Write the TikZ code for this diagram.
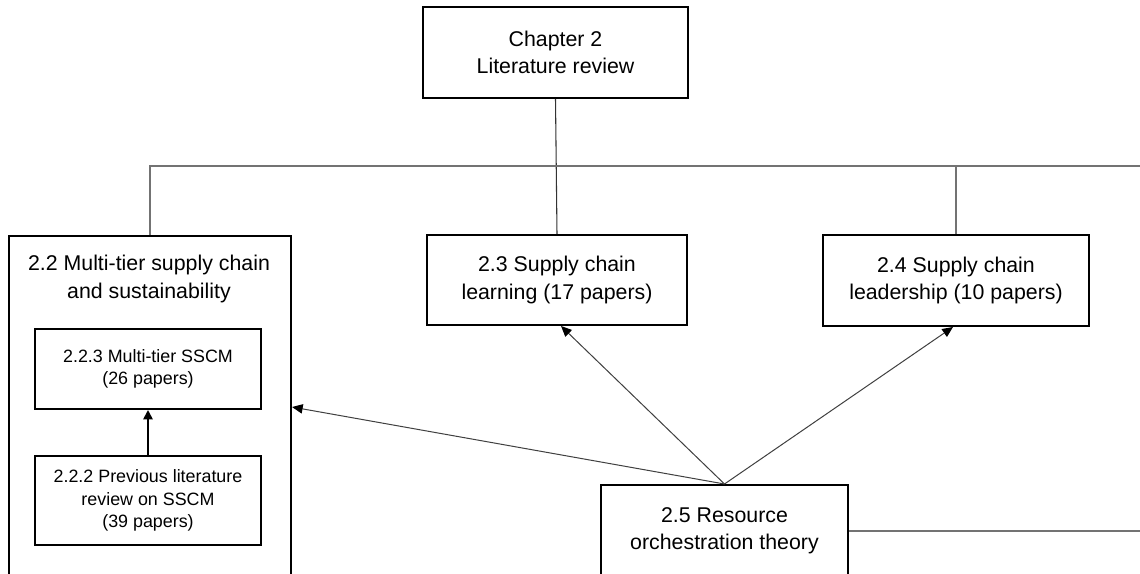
\documentclass[tikz,border=0pt]{standalone}
\usepackage{fontspec}
\setmainfont{Liberation Sans}
\usetikzlibrary{arrows.meta,calc}

\tikzset{
  box/.style={draw=black, line width=1.5pt, fill=white, inner sep=0pt, align=center},
  bigtext/.style={font=\fontsize{16}{20.3}\selectfont},
  smalltext/.style={font=\fontsize{13.4}{17}\selectfont},
  tree/.style={draw=black!55, line width=0.8pt},
  link/.style={draw=black!75, line width=0.75pt,
    -{Triangle[length=8pt,width=7pt,color=black,fill=black]}},
  sublink/.style={draw=black, line width=1.3pt,
    -{Triangle[length=7pt,width=7pt,fill=black]}},
}

\begin{document}
\begin{tikzpicture}[x=0.75pt, y=-0.75pt]
  \clip (0,0) rectangle (1140,574);
  \fill[white] (0,0) rectangle (1140,574);

  % free ends at the right edge
  \coordinate (r1) at (1140,166);
  \coordinate (r2) at (1140,531);

  % chapter heading
  \node[box, bigtext, minimum width=199pt, minimum height=68pt] (ch) at (555.5,52.5)
    {Chapter 2\\Literature review};

  % section 2.2 with its two sub-boxes
  \node[box, minimum width=211.5pt, minimum height=300pt, anchor=north west] (c22) at (8,235) {};
  \node[bigtext, align=center] (c22t) at (149,279)
    {2.2 Multi-tier supply chain\\and sustainability};
  \node[box, smalltext, minimum width=169.5pt, minimum height=60pt] (c223) at (148,369)
    {2.2.3 Multi-tier SSCM\\(26 papers)};
  \node[box, smalltext, minimum width=169.5pt, minimum height=66.75pt] (c222) at (148,500.5)
    {2.2.2 Previous literature\\review on SSCM\\(39 papers)};

  % sections 2.3 -- 2.5
  \node[box, bigtext, minimum width=195pt, minimum height=67.5pt] (c23) at (557,280)
    {2.3 Supply chain\\learning (17 papers)};
  \node[box, bigtext, minimum width=199.5pt, minimum height=68.25pt] (c24) at (956,280.5)
    {2.4 Supply chain\\leadership (10 papers)};
  \node[box, bigtext, minimum width=185.25pt, minimum height=69pt] (c25) at (724.5,531)
    {2.5 Resource\\orchestration theory};

  % hierarchy lines
  \draw[tree, draw=black!80] (ch.south) -- (c23.north);
  \draw[tree] (c22.north) |- (r1);
  \draw[tree] (c24.north) -- (c24.north |- r1);
  \draw[tree] (c25.east) -- (r2);

  % arrows
  \draw[sublink] (c222.north) -- (c223.south);
  \draw[link] (c25.north) -- ($(c22.north east)+(0,172)$);
  \draw[link] (c25.north) -- ($(c23.south)+(4,0)$);
  \draw[link] (c25.north) -- ($(c24.south)+(-3,0)$);
\end{tikzpicture}
\end{document}
